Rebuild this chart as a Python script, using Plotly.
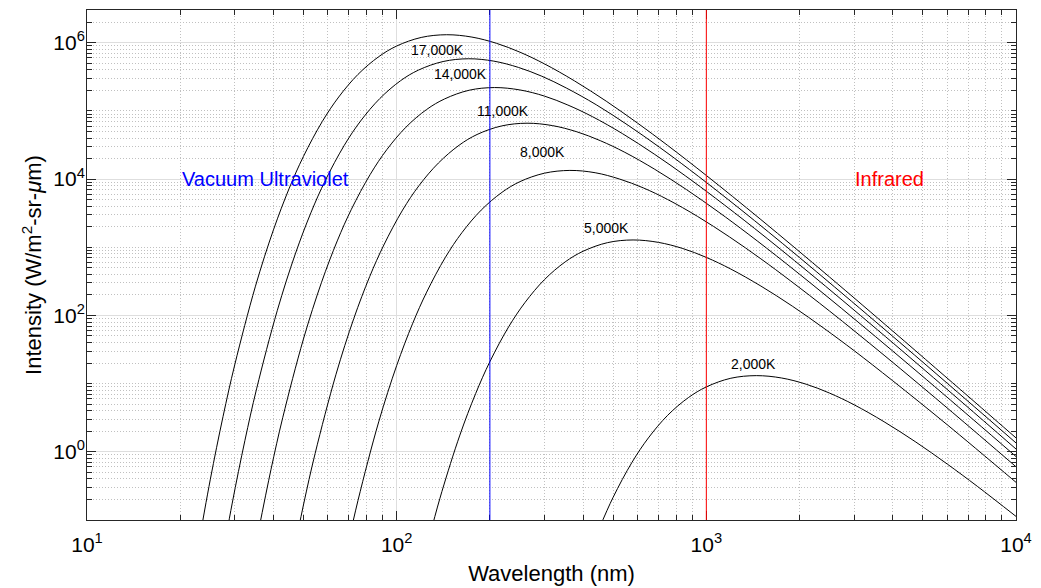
import numpy as np
import plotly.graph_objects as go

# Spectral intensity curves, wavelength in nm, intensity in W/m^2-sr-um
temps_K = [20000, 17000, 14000, 11000, 8000, 5000, 2000]

wl_20000 = [22.5, 25, 27.5, 30, 35, 40, 45, 50, 57.5, 65, 75, 87.5, 100, 120, 145, 175, 210,
            250, 300, 375, 475, 600, 750, 1000, 1500, 2500, 4000, 5500, 7000, 8500, 10000]
I_20000 = [0.0269, 0.388, 3.30, 18.9, 269, 1800, 7360, 21500, 69800, 1.60e5, 3.43e5, 6.24e5,
           8.95e5, 1.195e6, 1.31e6, 1.21e6, 9.81e5, 7.27e5, 4.90e5, 2.76e5, 1.39e5, 6.61e4,
           3.12e4, 1.13e4, 2550, 366, 59.0, 16.9, 6.55, 3.04, 1.60]

wl_17000 = [26.47, 29.41, 32.35, 35.29, 41.18, 47.06, 52.94, 58.82, 67.65, 76.47, 88.24, 102.9,
            117.6, 141.2, 170.6, 205.9, 247.1, 294.1, 352.9, 441.2, 558.8, 705.9, 882.4, 1176,
            1765, 2941, 4706, 6471, 8235, 10000]
I_17000 = [0.0119, 0.172, 1.46, 8.38, 119, 798, 3270, 9540, 31000, 71100, 1.52e5, 2.77e5,
           3.97e5, 5.30e5, 5.82e5, 5.37e5, 4.35e5, 3.23e5, 2.17e5, 1.23e5, 6.16e4, 2.93e4,
           1.38e4, 5020, 1130, 162, 26.2, 7.51, 2.91, 1.35]

wl_14000 = [35.71, 39.29, 42.86, 50, 57.14, 64.29, 71.43, 82.14, 92.86, 107.1, 125, 142.9,
            171.4, 207.1, 250, 300, 357.1, 428.6, 535.7, 678.6, 857.1, 1071, 1429, 2143, 3571,
            5714, 7857, 10000]
I_14000 = [0.0652, 0.554, 3.17, 45.1, 302, 1240, 3610, 11700, 26900, 57600, 1.05e5, 1.50e5,
           2.01e5, 2.20e5, 2.03e5, 1.65e5, 1.22e5, 82400, 46500, 23300, 11100, 5240, 1900, 428,
           61.5, 9.92, 2.85, 1.10]

wl_11000 = [45.45, 50, 54.55, 63.64, 72.73, 81.82, 90.91, 104.5, 118.2, 136.4, 159.1, 181.8,
            218.2, 263.6, 318.2, 381.8, 454.5, 545.5, 681.8, 863.6, 1091, 1364, 1818, 2727,
            4545, 7273, 10000]
I_11000 = [0.0195, 0.166, 0.950, 13.5, 90.5, 371, 1080, 3510, 8070, 17200, 31400, 45100,
           60200, 66000, 60900, 49400, 36600, 24700, 13900, 6990, 3330, 1570, 569, 128, 18.4,
           2.97, 0.852]

wl_8000 = [68.75, 75, 87.5, 100, 112.5, 125, 143.75, 162.5, 187.5, 218.75, 250, 300, 362.5,
           437.5, 525, 625, 750, 937.5, 1187.5, 1500, 1875, 2500, 3750, 6250, 10000]
I_8000 = [0.0338, 0.193, 2.75, 18.4, 75.4, 220, 715, 1640, 3510, 6390, 9170, 12200, 13400,
          12400, 10000, 7450, 5020, 2830, 1420, 677, 319, 116, 26.1, 3.75, 0.604]

wl_5000 = [130, 140, 160, 180, 200, 230, 260, 300, 350, 400, 480, 580, 700, 840, 1000, 1200,
           1500, 1900, 2400, 3000, 4000, 6000, 10000]
I_5000 = [0.0782, 0.262, 1.76, 7.19, 21.0, 68.2, 156, 335, 610, 874, 1170, 1280, 1180, 958,
          710, 479, 270, 136, 64.6, 30.5, 11.0, 2.49, 0.357]

wl_2000 = [450, 500, 575, 650, 750, 875, 1000, 1200, 1450, 1750, 2100, 2500, 3000, 3750, 4750,
           6000, 7500, 10000]
I_2000 = [0.0736, 0.215, 0.698, 1.60, 3.43, 6.24, 8.95, 12.0, 13.1, 12.1, 9.81, 7.27, 4.90,
          2.76, 1.39, 0.661, 0.312, 0.113]

curves = [(wl_20000, I_20000), (wl_17000, I_17000), (wl_14000, I_14000), (wl_11000, I_11000),
          (wl_8000, I_8000), (wl_5000, I_5000), (wl_2000, I_2000)]

# Temperature labels and where they sit (nm, intensity)
label_text = ["17,000K", "14,000K", "11,000K", "8,000K", "5,000K", "2,000K"]
label_x_nm = [135, 160.6, 220.6, 295.4, 474.5, 1421]
label_y = [7.8e5, 3.43e5, 9.9e4, 2.46e4, 1888, 19.6]

# Band boundaries and band names
band_edges_nm = [200, 1000]
band_colors = ["#0000ff", "#ff0000"]
band_names = ["Vacuum Ultraviolet", "Infrared"]
band_label_x_nm = [37.6, 3890]
band_label_y = [1.0e4, 1.0e4]

# Axis ticks
x_major = [10, 100, 1000, 10000]
x_major_text = ["10<sup>1</sup>", "10<sup>2</sup>", "10<sup>3</sup>", "10<sup>4</sup>"]
y_major = [1, 100, 1e4, 1e6]
y_major_text = ["10<sup>0</sup>", "10<sup>2</sup>", "10<sup>4</sup>", "10<sup>6</sup>"]
x_minor = [k * 10 ** d for d in (1, 2, 3) for k in range(2, 10)]
y_minor = [k * 10.0 ** d for d in range(-1, 7) for k in range(1, 10)
           if not (k == 1 and d % 2 == 0)]

FONT = "Liberation Sans, Arial, Helvetica, sans-serif"
AX = "#262626"

fig = go.Figure()
for wl, inten in curves:
    fig.add_trace(go.Scatter(x=wl, y=inten, mode="lines",
                             line=dict(color="black", width=1, shape="spline", smoothing=1),
                             hoverinfo="skip", showlegend=False))

for edge, col in zip(band_edges_nm, band_colors):
    fig.add_shape(type="line", xref="x", yref="y domain", x0=edge, x1=edge, y0=0, y1=1,
                  line=dict(color=col, width=1))

for t, xv, yv in zip(label_text, label_x_nm, label_y):
    fig.add_annotation(x=np.log10(xv), y=np.log10(yv), text=t, showarrow=False,
                       font=dict(size=14, color="black", family=FONT))

for name, col, xv, yv in zip(band_names, band_colors, band_label_x_nm, band_label_y):
    fig.add_annotation(x=np.log10(xv), y=np.log10(yv), text=name, showarrow=False,
                       font=dict(size=20, color=col, family=FONT))

common = dict(type="log", ticks="inside", ticklen=9, tickwidth=1, tickcolor=AX,
              showline=True, linecolor=AX, linewidth=1, mirror="ticks",
              showgrid=True, gridcolor="#dedede", gridwidth=1, zeroline=False,
              tickfont=dict(size=21, color="black", family=FONT), tickmode="array",
              automargin=False)
minor_common = dict(tickmode="array", ticks="inside", ticklen=5, tickcolor=AX,
                    showgrid=True, gridcolor="#c0c0c0", griddash="1px,2px", gridwidth=1)

fig.update_xaxes(range=[1, 4], tickvals=x_major, ticktext=x_major_text,
                 minor=dict(tickvals=x_minor, **minor_common), ticklabelstandoff=6,
                 title=dict(text="Wavelength (nm)", standoff=10,
                            font=dict(size=22, color="black", family=FONT)),
                 **common)
fig.update_yaxes(range=[-1, 6.48], tickvals=y_major, ticktext=y_major_text,
                 minor=dict(tickvals=y_minor, **minor_common), ticklabelstandoff=-3,
                 title=dict(text="Intensity (W/m<sup>2</sup>-sr-<i>\u03bc</i>m)", standoff=5,
                            font=dict(size=22, color="black", family=FONT)),
                 **common)

fig.update_layout(width=1041, height=588, margin=dict(l=87, r=25, t=10, b=68),
                  paper_bgcolor="white", plot_bgcolor="white", showlegend=False,
                  font=dict(family=FONT, color="black"))

fig.write_html("out.html")
